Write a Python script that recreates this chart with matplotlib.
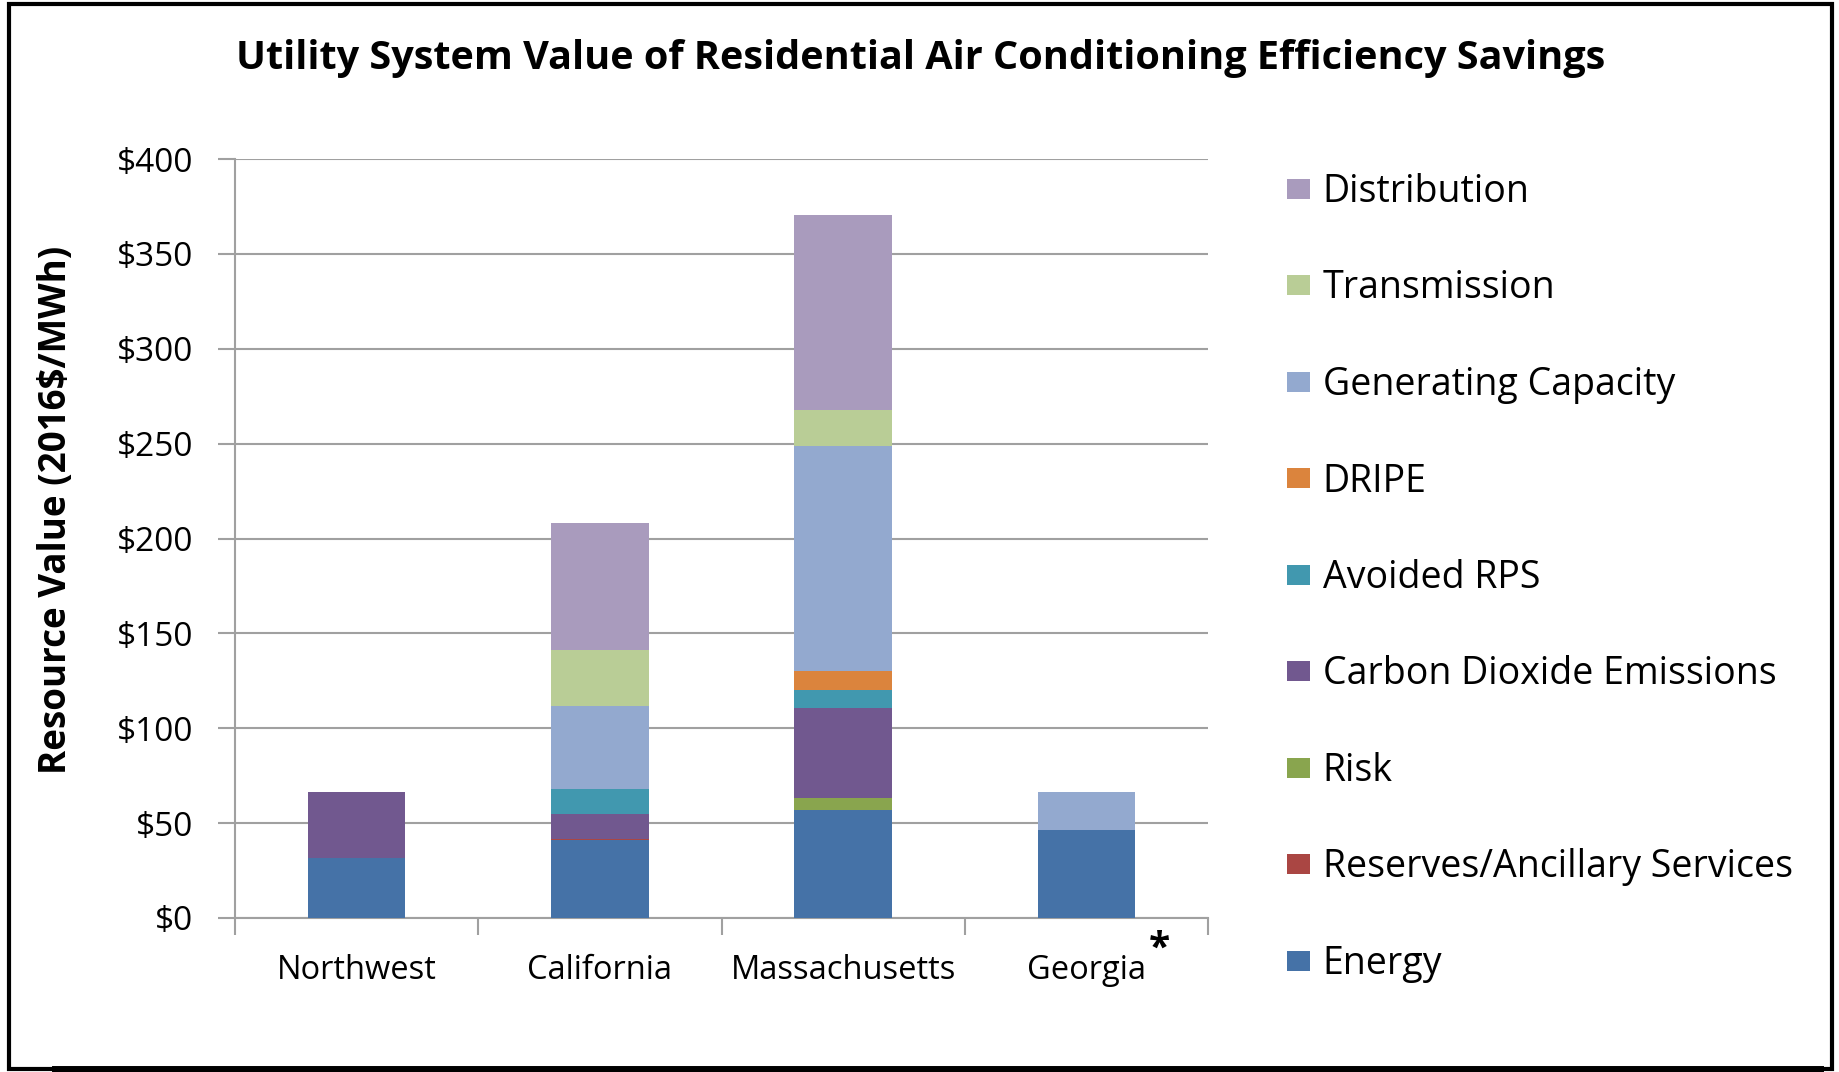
import matplotlib
matplotlib.use("Agg")
import matplotlib.pyplot as plt
from matplotlib.patches import Rectangle
from matplotlib.lines import Line2D
import numpy as np

plt.rcParams['font.family'] = ['Open Sans', 'DejaVu Sans']

regions = ["Northwest", "California", "Massachusetts", "Georgia"]
components = ["Energy", "Reserves/Ancillary Services", "Risk", "Carbon Dioxide Emissions",
              "Avoided RPS", "DRIPE", "Generating Capacity", "Transmission", "Distribution"]
energy       = [31.7, 41.0, 57.0, 46.5]
reserves     = [0.0, 0.5, 0.0, 0.0]
risk         = [0.0, 0.0, 6.0, 0.0]
co2          = [34.8, 13.3, 47.5, 0.0]
avoided_rps  = [0.0, 13.0, 9.8, 0.0]
dripe        = [0.0, 0.0, 9.8, 0.0]
gen_capacity = [0.0, 44.0, 118.6, 20.0]
transmission = [0.0, 29.5, 19.0, 0.0]
distribution = [0.0, 67.0, 103.0, 0.0]
series = [energy, reserves, risk, co2, avoided_rps, dripe, gen_capacity, transmission, distribution]
colors = ["#4572A7", "#AA4643", "#89A54E", "#71588F", "#4198AF", "#DB843D",
          "#93A9CF", "#B9CD96", "#A99BBD"]
yticks = [0, 50, 100, 150, 200, 250, 300, 350, 400]
ytick_labels = ["$0", "$50", "$100", "$150", "$200", "$250", "$300", "$350", "$400"]

W, H = 1839, 1072
fig = plt.figure(figsize=(W / 100, H / 100), dpi=100)
ax = fig.add_axes([235 / W, 1 - 918 / H, (1208 - 235) / W, (918 - 159) / H])

x = np.arange(len(regions))
bottom = np.zeros(len(regions))
handles = []
for vals, col, name in zip(series, colors, components):
    v = np.array(vals)
    b = ax.bar(x, v, bottom=bottom, width=0.40, color=col, label=name, zorder=3,
               edgecolor="none")
    handles.append(b)
    bottom += v

ax.set_xlim(-0.5, 3.5)
ax.set_ylim(0, 400)
ax.set_yticks(yticks)
ax.set_yticklabels(ytick_labels, fontsize=24)
ax.yaxis.grid(True, color="#A0A0A0", linewidth=1.5, zorder=0)
ax.set_axisbelow(True)
for s in ["top", "right"]:
    ax.spines[s].set_visible(False)
for s in ["left", "bottom"]:
    ax.spines[s].set_color("#A0A0A0")
    ax.spines[s].set_linewidth(1.5)
ax.tick_params(axis="y", length=12, width=1.5, color="#A0A0A0", pad=18)
ax.set_xticks(np.arange(-0.5, 4.0, 1.0))
ax.set_xticklabels([])
ax.tick_params(axis="x", which="major", length=12, width=1.5, color="#A0A0A0")
ax.set_xticks(x, minor=True)
ax.set_xticklabels(regions, minor=True, fontsize=23.5)
ax.tick_params(axis="x", which="minor", length=0, pad=26)

fig.text(56 / W, 1 - 510 / H, "Resource Value (2016$/MWh)", rotation=90,
         ha="center", va="center", fontsize=26.5, fontweight="bold")

fig.text(0.5005, 1 - 59 / H, "Utility System Value of Residential Air Conditioning Efficiency Savings",
         ha="center", va="center", fontsize=28.5, fontweight="bold")

# asterisk next to Georgia
fig.text(1159 / W, 1 - 949 / H, "*", ha="center", va="center", fontsize=28, fontweight="bold")

leg = fig.legend(handles[::-1], components[::-1], loc="upper left",
                 bbox_to_anchor=(1287 / W, 1 - 173 / H), frameon=False, fontsize=27,
                 handlelength=0.6, handleheight=0.45, handletextpad=0.35,
                 labelspacing=1.56, borderaxespad=0, borderpad=0)

# outer frame
fig.patches.append(Rectangle((9 / W, 1 - 1069 / H), (1832 - 9) / W, (1069 - 4) / H,
                             transform=fig.transFigure, fill=False, edgecolor="black",
                             linewidth=3))
fig.lines.append(Line2D([55 / W, 1820 / W], [1 - 1069 / H, 1 - 1069 / H],
                        transform=fig.transFigure, color="black", linewidth=5))

fig.savefig("out.png", dpi=100)
